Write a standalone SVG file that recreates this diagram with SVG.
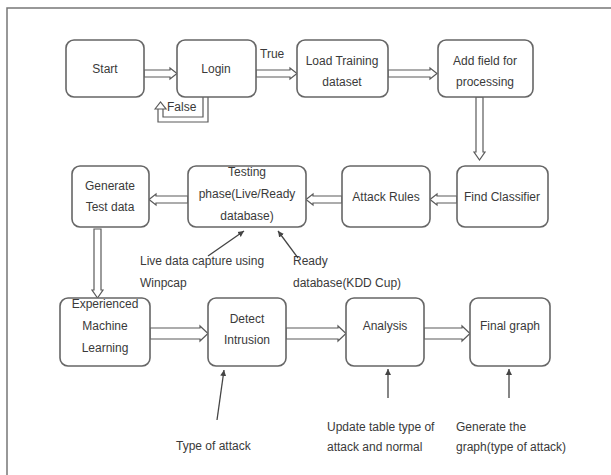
<svg xmlns="http://www.w3.org/2000/svg" width="611" height="475" viewBox="0 0 611 475">
<defs>
<style>
.frame{fill:none;stroke:#777;stroke-width:1.5}
.box{fill:#fff;stroke:#666;stroke-width:1.6}
.t{font-family:"Liberation Sans",Arial,sans-serif;font-size:12px;fill:#3a3a3a;text-anchor:middle}
.tl{font-family:"Liberation Sans",Arial,sans-serif;font-size:12px;fill:#3a3a3a}
.dbl{fill:#fff;stroke:#5a5a5a;stroke-width:1.2;stroke-linejoin:miter}
.loop{fill:none;stroke:#5a5a5a;stroke-width:1.2}
.thin{fill:none;stroke:#444;stroke-width:1.3}
</style>
<marker id="ah" markerWidth="8" markerHeight="8" refX="6" refY="4" orient="auto" markerUnits="userSpaceOnUse">
<path d="M0,1 L6,4 L0,7 Z" fill="#444"/>
</marker>
</defs>
<rect width="611" height="475" fill="#fff"/>
<path class="frame" d="M7,475 V8 H611"/>

<g id="connectors">
<!-- row 1 -->
<polygon class="dbl" points="144,70 170,70 170,68 177,73.5 170,79 170,77 144,77"/>
<polygon class="dbl" points="256,70 290,70 290,68 297,73.5 290,79 290,77 256,77"/>
<polygon class="dbl" points="388,70 430,70 430,68 437,73.5 430,79 430,77 388,77"/>
<!-- false loop -->
<path class="loop" d="M208,97 V122 H158 V109"/>
<path class="loop" d="M203,97 V117 H163 V109"/>
<polygon class="dbl" points="155,109 160.5,102 166,109"/>
<!-- add -> find -->
<polygon class="dbl" points="476,97 476,152 474,152 479.5,160 485,152 483,152 483,97"/>
<!-- row 2 -->
<polygon class="dbl" points="457,196 437,196 437,194 430,199.5 437,205 437,203 457,203"/>
<polygon class="dbl" points="342,196 313,196 313,194 306,199.5 313,205 313,203 342,203"/>
<polygon class="dbl" points="188,196 156,196 156,194 149,199.5 156,205 156,203 188,203"/>
<!-- generate -> experienced -->
<polygon class="dbl" points="94,229 94,290 92,290 97.5,298 103,290 101,290 101,229"/>
<!-- row 3 -->
<polygon class="dbl" points="150,328 200,328 200,326 208,333.5 200,341 200,339 150,339"/>
<polygon class="dbl" points="286,328 338,328 338,326 346,333.5 338,341 338,339 286,339"/>
<polygon class="dbl" points="424,328 462,328 462,326 470,333.5 462,341 462,339 424,339"/>
<!-- thin annotation arrows -->
<line class="thin" x1="208" y1="256" x2="244" y2="231" marker-end="url(#ah)"/>
<line class="thin" x1="298" y1="258" x2="278" y2="231" marker-end="url(#ah)"/>
<line class="thin" x1="217" y1="420" x2="224" y2="370" marker-end="url(#ah)"/>
<line class="thin" x1="388" y1="398" x2="388" y2="369" marker-end="url(#ah)"/>
<line class="thin" x1="509" y1="398" x2="509" y2="369" marker-end="url(#ah)"/>
</g>

<g id="start"><rect class="box" x="66" y="40" width="78" height="57" rx="8"/><text class="t" x="105" y="73">Start</text></g>
<g id="login"><rect class="box" x="177" y="40" width="79" height="57" rx="8"/><text class="t" x="216" y="73">Login</text></g>
<text class="tl" x="260" y="58">True</text>
<text class="tl" x="167" y="111">False</text>
<g id="load"><rect class="box" x="297" y="40" width="91" height="57" rx="8"/><text class="t" x="342" y="65">Load Training</text><text class="t" x="342" y="86">dataset</text></g>
<g id="addfield"><rect class="box" x="438" y="40" width="95" height="57" rx="8"/><text class="t" x="485" y="65">Add field for</text><text class="t" x="485" y="86">processing</text></g>

<g id="generate"><rect class="box" x="72" y="166" width="77" height="61" rx="8"/><text class="t" x="110" y="190">Generate</text><text class="t" x="110" y="211">Test data</text></g>
<g id="testing"><rect class="box" x="188" y="166" width="118" height="61" rx="8"/><text class="t" x="247" y="176">Testing</text><text class="t" x="247" y="198">phase(Live/Ready</text><text class="t" x="247" y="220">database)</text></g>
<g id="attack"><rect class="box" x="342" y="166" width="88" height="61" rx="8"/><text class="t" x="386" y="201">Attack Rules</text></g>
<g id="classifier"><rect class="box" x="457" y="166" width="91" height="61" rx="8"/><text class="t" x="502" y="201">Find Classifier</text></g>
<text class="tl" x="140" y="265">Live data capture using</text>
<text class="tl" x="140" y="287">Winpcap</text>
<text class="tl" x="293" y="265">Ready</text>
<text class="tl" x="293" y="287">database(KDD Cup)</text>

<g id="experienced"><rect class="box" x="60" y="298" width="90" height="68" rx="8"/><text class="t" x="105" y="308">Experienced</text><text class="t" x="105" y="330">Machine</text><text class="t" x="105" y="352">Learning</text></g>
<g id="detect"><rect class="box" x="208" y="298" width="78" height="68" rx="8"/><text class="t" x="247" y="323">Detect</text><text class="t" x="247" y="344">Intrusion</text></g>
<g id="analysis"><rect class="box" x="346" y="298" width="78" height="68" rx="8"/><text class="t" x="385" y="330">Analysis</text></g>
<g id="finalgraph"><rect class="box" x="470" y="298" width="80" height="68" rx="8"/><text class="t" x="510" y="330">Final graph</text></g>
<text class="tl" x="176" y="450">Type of attack</text>
<text class="tl" x="327" y="431">Update table type of</text>
<text class="tl" x="327" y="451">attack and normal</text>
<text class="tl" x="456" y="431">Generate the</text>
<text class="tl" x="456" y="451">graph(type of attack)</text>
</svg>
